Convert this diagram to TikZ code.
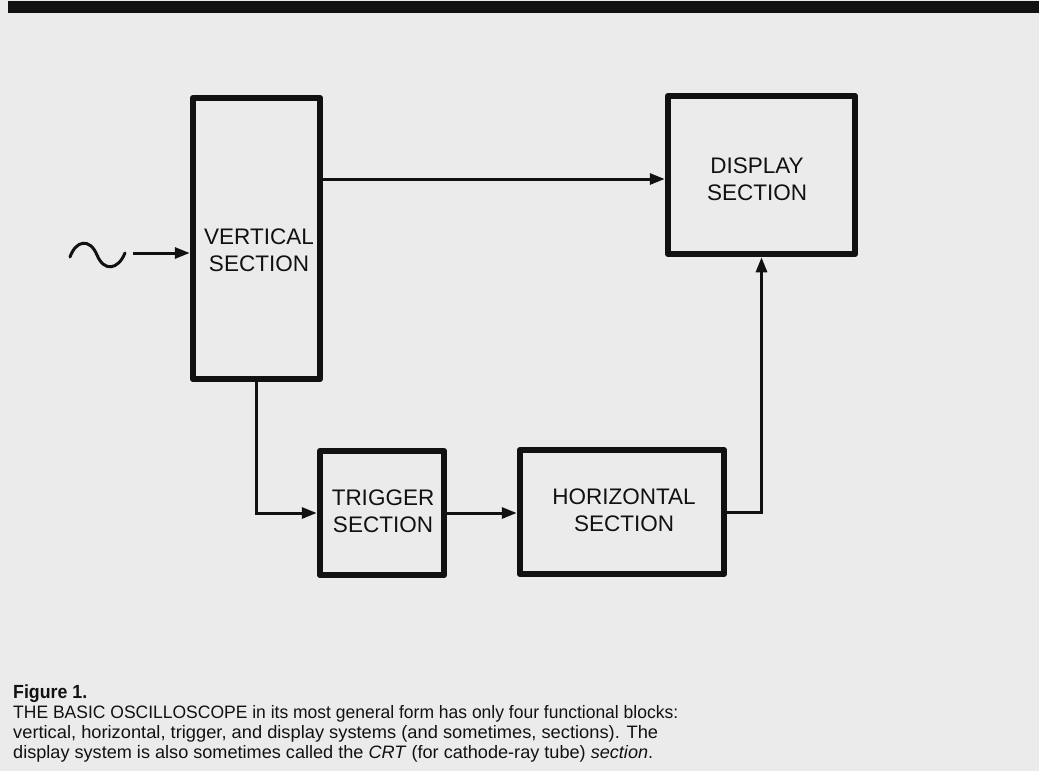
\documentclass[tikz,border=0pt]{standalone}
\usepackage{fontspec}
\usepackage{graphicx}
\setmainfont{Liberation Sans}
\usetikzlibrary{arrows.meta}
\definecolor{paper}{RGB}{235,235,235}
\definecolor{ink}{RGB}{17,17,17}
\newsavebox\fitbox
\newcommand\fitto[2]{\sbox\fitbox{#2}\pgfmathsetmacro\fitratio{#1/\the\wd\fitbox}\scalebox{\fitratio}[1]{\usebox\fitbox}}
\tikzset{
  blockbox/.style={draw=ink, line width=6.5pt, line join=round, inner sep=0pt, fill=paper},
  blocklabel/.style={text=ink, align=center, font=\fontsize{22.5}{27}\selectfont, inner sep=0pt},
  conn/.style={draw=ink, line width=3pt, -{Triangle[length=15pt,width=11pt]}},
  captext/.style={text=ink, anchor=base west, inner sep=0pt, font=\fontsize{18}{20}\selectfont},
}
\begin{document}
\begin{tikzpicture}[x=1pt,y=-1pt]
\useasboundingbox[fill=paper] (0,0) rectangle (1039,771);
% top bar
\fill[ink] (8,1) rectangle (1039,13);
% blocks
\node[blockbox, minimum width=127pt, minimum height=281pt] (vert) at (256.5,238.5) {};
\node[blockbox, minimum width=187pt, minimum height=158pt] (disp) at (761.5,175) {};
\node[blockbox, minimum width=124pt, minimum height=124pt] (trig) at (382,513) {};
\node[blockbox, minimum width=204pt, minimum height=124pt] (horiz) at (622,512) {};
% labels
\node[blocklabel] (vertlab) at (259,250) {VERTICAL\\SECTION};
\node[blocklabel] (displab) at (757,179) {DISPLAY\\SECTION};
\node[blocklabel] (triglab) at (383,511) {TRIGGER\\SECTION};
\node[blocklabel] (horizlab) at (624,510) {HORIZONTAL\\SECTION};
% input signal
\draw[ink, line width=3pt, line cap=round] (70,257) .. controls (76,240) and (90,238) .. (97,255) .. controls (104,272) and (118,270) .. (125,253);
\coordinate (inp) at (133,253);
\draw[conn] (inp) -- (inp -| vert.west);
% connectors
\coordinate (toprow) at (0,179);
\draw[conn] (vert.east |- toprow) -- (disp.west |- toprow);
\draw[conn] (vert.south) |- (trig.west);
\draw[conn] (trig.east) -- (horiz.west |- trig.east);
\draw[conn] (horiz.east) -| (disp.south);
% caption
\node[captext, font=\fontsize{19}{20}\selectfont\bfseries] (cap0) at (13,698) {\fitto{74pt}{Figure 1.}};
\node[captext] (cap1) at (13,718) {\fitto{665pt}{THE BASIC OSCILLOSCOPE in its most general form has only four functional blocks:}};
\node[captext] (cap2) at (13,738) {\fitto{645pt}{vertical, horizontal, trigger, and display systems (and sometimes, sections). The}};
\node[captext] (cap3) at (13,758) {\fitto{640pt}{display system is also sometimes called the \textit{CRT} (for cathode-ray tube) \textit{section}.}};
\end{tikzpicture}
\end{document}
